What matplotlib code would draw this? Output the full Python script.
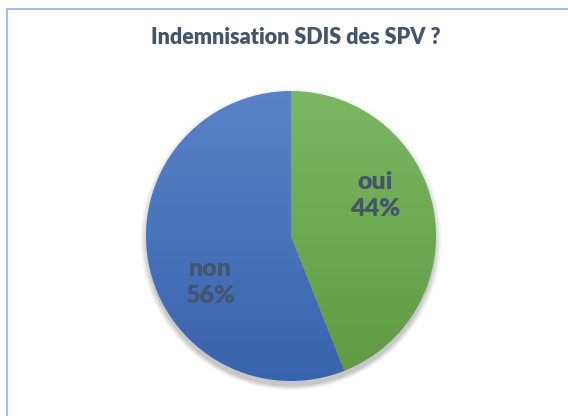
import numpy as np
import matplotlib
matplotlib.use("Agg")
import matplotlib.pyplot as plt
from matplotlib.patches import Rectangle, Circle
from matplotlib.colors import LinearSegmentedColormap

# donnees du graphique
categories = ["oui", "non"]
valeurs = [44, 56]
couleurs_haut = ["#7bb662", "#5a82c8"]
couleurs_bas = ["#5f9a43", "#3863ad"]
# position des etiquettes (repere du camembert)
pos_labels = [(0.58, 0.28), (-0.56, -0.32)]

titre = "Indemnisation SDIS des SPV ?"
texte_couleur = "#44546a"

plt.rcParams['font.family'] = ['Lato', 'DejaVu Sans']

W, H = 568, 416
fig = plt.figure(figsize=(W / 100, H / 100), dpi=100)
fig.patch.set_facecolor("white")

# cadre du graphique (coupe a droite et en bas)
fig.patches.append(Rectangle((7 / W, -0.05), 1.1, 1 - 9 / H + 0.05,
                             transform=fig.transFigure, fill=False,
                             edgecolor="#8db3e2", linewidth=1.2))

fig.text(296 / W, 1 - 37 / H, titre, ha="center", va="center",
         fontsize=15.5, fontweight="heavy", color=texte_couleur)

cx, cy, r = 291, 236, 145
ax = fig.add_axes([(cx - r * 1.06) / W, (H - cy - r * 1.06) / H,
                   2 * r * 1.06 / W, 2 * r * 1.06 / H])
ax.set_aspect("equal")
ax.axis("off")

# ombre legere
for i, a in enumerate([0.05, 0.05, 0.06, 0.07]):
    ax.add_patch(Circle((0.0, -0.025 - 0.004 * i), 1.0 + 0.012 * (3 - i),
                        color="black", alpha=a, zorder=0, lw=0))

wedges, _ = ax.pie(valeurs, startangle=90, counterclock=False, radius=1,
                   wedgeprops=dict(linewidth=0))

grad = np.linspace(0, 1, 256).reshape(-1, 1)
for w, c1, c2 in zip(wedges, couleurs_haut, couleurs_bas):
    w.set_facecolor("none")
    cmap = LinearSegmentedColormap.from_list("g", [c2, c1])
    im = ax.imshow(grad, cmap=cmap, extent=[-1, 1, -1, 1], origin="lower",
                   aspect="auto", zorder=1)
    im.set_clip_path(w)

ax.set_xlim(-1.06, 1.06)
ax.set_ylim(-1.06, 1.06)

for cat, v, (x, y) in zip(categories, valeurs, pos_labels):
    ax.text(x, y, f"{cat}\n{v}%", ha="center", va="center", fontsize=18,
            fontweight="heavy", color=texte_couleur, linespacing=1.25, zorder=3)

fig.savefig("out.png", dpi=100)
